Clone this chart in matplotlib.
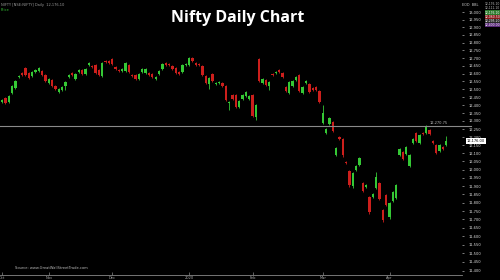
import numpy as np
import matplotlib
matplotlib.use('Agg')
import matplotlib.pyplot as plt
from matplotlib.ticker import FixedLocator, FuncFormatter, NullLocator

# daily OHLC
opens = [12420, 12445, 12420, 12477, 12508, 12579, 12604, 12636, 12604, 12585,
         12611, 12617, 12617, 12591, 12540, 12559, 12521, 12483, 12496, 12521,
         12579, 12604, 12566, 12611, 12623, 12598, 12655, 12649, 12655, 12623,
         12585, 12681, 12681, 12694, 12643, 12623, 12617, 12617, 12655, 12591,
         12591, 12566, 12611, 12604, 12604, 12598, 12566, 12598, 12630, 12668,
         12662, 12649, 12636, 12611, 12611, 12655, 12655, 12700, 12668, 12662,
         12649, 12585, 12534, 12598, 12534, 12540, 12540, 12521, 12413, 12464,
         12464, 12388, 12438, 12457, 12438, 12464, 12326, 12694, 12540, 12559,
         12521, 12598, 12604, 12623, 12604, 12515, 12477, 12521, 12559, 12591,
         12477, 12540, 12534, 12508, 12515, 12489, 12289, 12226, 12282, 12295,
         12090, 12201, 12189, 12047, 11993, 11902, 11999, 12029, 11920, 11896,
         11835, 11835, 11890, 11920, 11757, 11848, 11714, 11811, 11829, 12090,
         12108, 12096, 12023, 12164, 12226, 12164, 12226, 12226, 12245, 12176,
         12151, 12114, 12139, 12151]
highs = [12438, 12451, 12464, 12528, 12559, 12591, 12611, 12643, 12611, 12617,
         12630, 12643, 12623, 12598, 12572, 12566, 12528, 12508, 12521, 12553,
         12598, 12611, 12604, 12630, 12630, 12636, 12674, 12655, 12662, 12630,
         12674, 12687, 12687, 12700, 12649, 12630, 12636, 12674, 12662, 12598,
         12598, 12604, 12636, 12636, 12611, 12604, 12585, 12623, 12668, 12674,
         12668, 12655, 12643, 12617, 12662, 12668, 12707, 12707, 12674, 12668,
         12655, 12591, 12579, 12604, 12547, 12553, 12547, 12528, 12426, 12470,
         12470, 12432, 12470, 12489, 12464, 12470, 12407, 12700, 12572, 12566,
         12553, 12604, 12617, 12630, 12611, 12521, 12553, 12559, 12585, 12598,
         12521, 12559, 12540, 12515, 12521, 12496, 12401, 12257, 12326, 12301,
         12139, 12207, 12195, 12053, 11999, 11987, 12029, 12078, 11926, 11914,
         11841, 11860, 11987, 11926, 11763, 11854, 11805, 11872, 11914, 12132,
         12114, 12145, 12096, 12195, 12232, 12220, 12232, 12276, 12251, 12182,
         12158, 12158, 12145, 12207]
lows = [12413, 12407, 12413, 12470, 12502, 12572, 12585, 12585, 12566, 12579,
        12604, 12611, 12585, 12547, 12534, 12515, 12496, 12477, 12489, 12496,
        12572, 12585, 12559, 12604, 12591, 12591, 12649, 12636, 12598, 12585,
        12579, 12668, 12662, 12655, 12623, 12611, 12611, 12611, 12604, 12579,
        12559, 12559, 12604, 12598, 12585, 12572, 12559, 12591, 12623, 12649,
        12649, 12623, 12598, 12591, 12604, 12649, 12649, 12674, 12649, 12649,
        12585, 12534, 12502, 12547, 12528, 12534, 12515, 12426, 12370, 12432,
        12382, 12382, 12432, 12451, 12432, 12326, 12307, 12547, 12534, 12521,
        12496, 12585, 12598, 12604, 12572, 12483, 12470, 12515, 12553, 12483,
        12470, 12534, 12477, 12489, 12489, 12413, 12282, 12220, 12276, 12232,
        12084, 12182, 12078, 12035, 11896, 11890, 11993, 12023, 11866, 11890,
        11733, 11829, 11884, 11817, 11684, 11781, 11702, 11805, 11823, 12084,
        12059, 12090, 12017, 12158, 12170, 12158, 12214, 12220, 12214, 12158,
        12096, 12108, 12120, 12145]
closes = [12432, 12413, 12457, 12521, 12553, 12585, 12591, 12591, 12572, 12611,
          12623, 12636, 12591, 12553, 12566, 12521, 12502, 12502, 12515, 12547,
          12591, 12591, 12598, 12623, 12598, 12630, 12668, 12643, 12604, 12591,
          12668, 12674, 12668, 12662, 12630, 12617, 12630, 12668, 12611, 12585,
          12566, 12598, 12630, 12630, 12591, 12579, 12579, 12617, 12662, 12655,
          12655, 12630, 12604, 12598, 12655, 12662, 12700, 12681, 12655, 12655,
          12591, 12540, 12572, 12553, 12540, 12547, 12521, 12432, 12420, 12438,
          12388, 12426, 12464, 12483, 12457, 12332, 12401, 12553, 12566, 12528,
          12547, 12591, 12611, 12611, 12579, 12489, 12547, 12553, 12579, 12489,
          12515, 12553, 12483, 12496, 12496, 12420, 12351, 12251, 12320, 12239,
          12132, 12189, 12090, 12041, 11908, 11981, 12023, 12072, 11872, 11908,
          11745, 11854, 11957, 11823, 11696, 11787, 11799, 11866, 11908, 12126,
          12066, 12139, 12090, 12189, 12176, 12214, 12220, 12270, 12220, 12164,
          12102, 12151, 12126, 12176]

level_line = 12270
yticks = list(range(11400, 13001, 50))
month_pos = [0, 14, 33, 56, 75, 96, 116]
month_labels = ['Oct', 'Nov', 'Dec', '2020', 'Feb', 'Mar', 'Apr']

GREEN = '#35c835'
RED = '#cc1f1c'

fig = plt.figure(figsize=(5, 2.8), dpi=100, facecolor='black')
ax = fig.add_axes([0, 5 / 280, 462 / 500, 275 / 280], facecolor='black')

o = np.array(opens)
c = np.array(closes)
idx = np.arange(len(o))
cols = [GREEN if cc >= oo else RED for oo, cc in zip(o, c)]

ax.vlines(idx, lows, highs, colors=cols, linewidth=0.6)
ax.bar(idx, np.where(c - o == 0, 1, c - o), bottom=o, width=0.7, color=cols, linewidth=0)

ax.axhline(level_line, xmin=0, xmax=1.02, color='#8a8a8a', linewidth=0.8, clip_on=False)
ax.text(len(o) - 0.5, level_line + 4, '12,270.75', color='#bbbbbb', fontsize=2.6,
        ha='right', va='bottom')

ax.set_yscale('log')
ax.set_ylim(11374, 13080)
ax.set_xlim(-0.6, 137.7)
ax.yaxis.set_major_locator(FixedLocator(yticks))
ax.yaxis.set_minor_locator(NullLocator())
ax.yaxis.set_major_formatter(FuncFormatter(lambda v, p: f'{v:,.0f}'))
ax.yaxis.tick_right()
ax.tick_params(axis='y', colors='#dddddd', labelsize=2.6, length=1.5, width=0.4, pad=3)
ax.set_xticks(month_pos)
ax.set_xticklabels(month_labels)
ax.tick_params(axis='x', colors='#aaaaaa', labelsize=2.6, length=2, width=0.4,
               direction='in', pad=0.5)
for s in ['top', 'right', 'left']:
    ax.spines[s].set_visible(False)
ax.spines['bottom'].set_color('#888888')
ax.spines['bottom'].set_linewidth(0.6)

# last price box
ax.text(1.01, closes[-1], f'{closes[-1]:,.2f}', transform=ax.get_yaxis_transform(),
        fontsize=2.6, color='black', va='center', ha='left',
        bbox=dict(boxstyle='square,pad=0.25', fc='white', ec='none'))

fig.text(0.475, 0.935, 'Nifty Daily Chart', color='white', fontsize=11.5,
         fontweight='bold', family='Open Sans', ha='center', va='center')
fig.text(0.002, 0.99, 'NIFTY [NSE:NIFTY] Daily  12,176.10', color='#999999',
         fontsize=2.6, va='top')
fig.text(0.002, 0.972, 'Price', color=GREEN, fontsize=2.6, va='top')
fig.text(0.03, 0.035, 'Source: www.GreatWallStreetTrade.com', color='#bbbbbb',
         fontsize=2.6, va='bottom')

# legend box top right
fig.text(0.925, 0.99, 'EOD  BBL', color='#cccccc', fontsize=2.4, va='top')
leg = [('12,176.10', '#000000', '#bbbbbb'), ('12,111.10', '#000000', '#bbbbbb'),
       ('12,176.10', '#2c7a2c', '#ffffff'), ('12,060.50', '#8a1a1a', '#ffffff'),
       ('12,295.20', '#2a2a2a', '#ffffff'), ('12,400.00', '#5a2a7a', '#ffffff')]
for k, (t, fc, tc) in enumerate(leg):
    fig.text(0.97, 0.992 - k * 0.0148, t, color=tc, fontsize=2.2, va='top',
             bbox=dict(boxstyle='square,pad=0.05', fc=fc, ec='none'))

fig.savefig('out.png', dpi=100, facecolor='black')
